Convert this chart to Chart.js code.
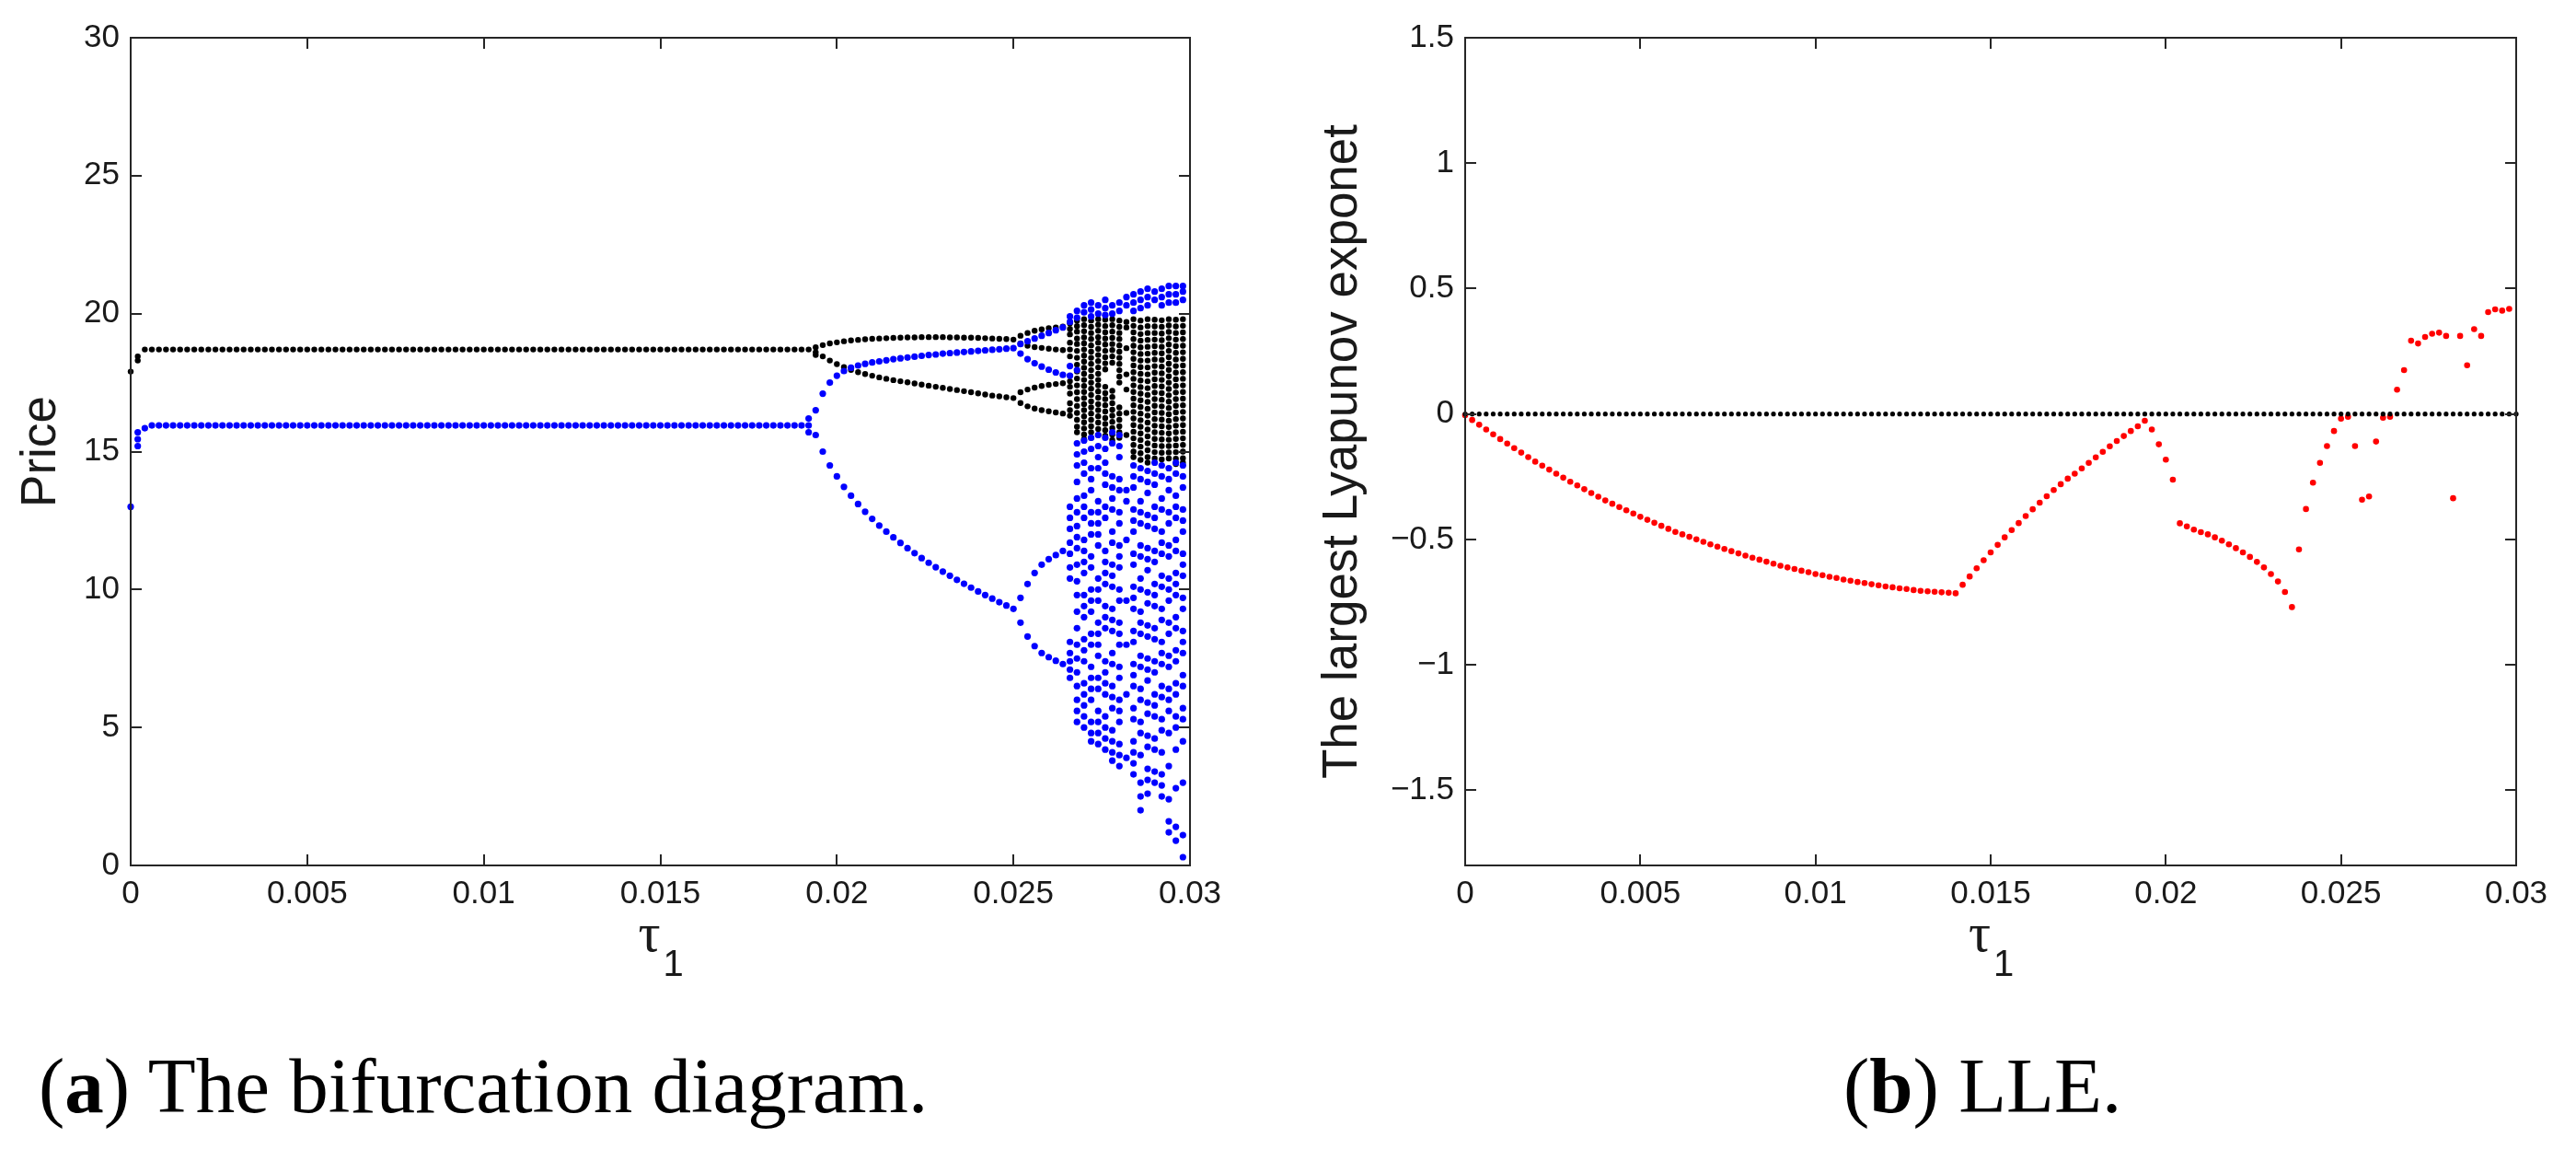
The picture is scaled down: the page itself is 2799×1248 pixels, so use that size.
<!DOCTYPE html>
<html><head><meta charset="utf-8">
<script src="https://cdn.jsdelivr.net/npm/chart.js@4.4.1/dist/chart.umd.min.js"></script>
<style>
html,body{margin:0;padding:0;background:#fff;width:2799px;height:1248px;overflow:hidden;}
.box{position:absolute;top:0;height:1060px;}
.cap{position:absolute;font-family:"Liberation Serif",serif;font-size:85px;line-height:1;color:#000;white-space:nowrap;}
</style></head><body>
<div class="box" style="left:0;width:1400px"><canvas id="c1"></canvas></div>
<div class="box" style="left:1400px;width:1399px"><canvas id="c2"></canvas></div>
<div class="cap" style="left:42px;top:1137px">(<b>a</b>) The bifurcation diagram.</div>
<div class="cap" style="left:2003px;top:1137px">(<b>b</b>) LLE.</div>
<script>
// ---------- shared parameter grid (tau_1) ----------
const tauGrid = [
0,0.0002,0.0004,0.0006,0.0008,0.001,0.0012,0.0014,0.0016,0.0018,
0.002,0.0022,0.0024,0.0026,0.0028,0.003,0.0032,0.0034,0.0036,0.0038,
0.004,0.0042,0.0044,0.0046,0.0048,0.005,0.0052,0.0054,0.0056,0.0058,
0.006,0.0062,0.0064,0.0066,0.0068,0.007,0.0072,0.0074,0.0076,0.0078,
0.008,0.0082,0.0084,0.0086,0.0088,0.009,0.0092,0.0094,0.0096,0.0098,
0.01,0.0102,0.0104,0.0106,0.0108,0.011,0.0112,0.0114,0.0116,0.0118,
0.012,0.0122,0.0124,0.0126,0.0128,0.013,0.0132,0.0134,0.0136,0.0138,
0.014,0.0142,0.0144,0.0146,0.0148,0.015,0.0152,0.0154,0.0156,0.0158,
0.016,0.0162,0.0164,0.0166,0.0168,0.017,0.0172,0.0174,0.0176,0.0178,
0.018,0.0182,0.0184,0.0186,0.0188,0.019,0.0192,0.0194,0.0196,0.0198,
0.02,0.0202,0.0204,0.0206,0.0208,0.021,0.0212,0.0214,0.0216,0.0218,
0.022,0.0222,0.0224,0.0226,0.0228,0.023,0.0232,0.0234,0.0236,0.0238,
0.024,0.0242,0.0244,0.0246,0.0248,0.025,0.0252,0.0254,0.0256,0.0258,
0.026,0.0262,0.0264,0.0266,0.0268,0.027,0.0272,0.0274,0.0276,0.0278,
0.028,0.0282,0.0284,0.0286,0.0288,0.029,0.0292,0.0294,0.0296,0.0298,
0.03];

// ---------- tick labels ----------
const xTickVals = [0,0.005,0.01,0.015,0.02,0.025,0.03];
const xTickLabels = ['0','0.005','0.01','0.015','0.02','0.025','0.03'];
const priceTickVals = [0,5,10,15,20,25,30];
const priceTickLabels = ['0','5','10','15','20','25','30'];
const lleTickVals = [-1.5,-1,-0.5,0,0.5,1,1.5];
const lleTickLabels = ['\u22121.5','\u22121','\u22120.5','0','0.5','1','1.5'];

// ---------- (a) bifurcation: period-1 part, tau index 0..96 ----------
const priceBlackP1 = [
17.9,18.45,18.7,18.7,18.7,18.7,18.7,18.7,18.7,18.7,
18.7,18.7,18.7,18.7,18.7,18.7,18.7,18.7,18.7,18.7,
18.7,18.7,18.7,18.7,18.7,18.7,18.7,18.7,18.7,18.7,
18.7,18.7,18.7,18.7,18.7,18.7,18.7,18.7,18.7,18.7,
18.7,18.7,18.7,18.7,18.7,18.7,18.7,18.7,18.7,18.7,
18.7,18.7,18.7,18.7,18.7,18.7,18.7,18.7,18.7,18.7,
18.7,18.7,18.7,18.7,18.7,18.7,18.7,18.7,18.7,18.7,
18.7,18.7,18.7,18.7,18.7,18.7,18.7,18.7,18.7,18.7,
18.7,18.7,18.7,18.7,18.7,18.7,18.7,18.7,18.7,18.7,
18.7,18.7,18.7,18.7,18.7,18.7,18.7];
const priceBlueP1 = [
13.0,15.2,15.85,15.95,15.95,15.95,15.95,15.95,15.95,15.95,
15.95,15.95,15.95,15.95,15.95,15.95,15.95,15.95,15.95,15.95,
15.95,15.95,15.95,15.95,15.95,15.95,15.95,15.95,15.95,15.95,
15.95,15.95,15.95,15.95,15.95,15.95,15.95,15.95,15.95,15.95,
15.95,15.95,15.95,15.95,15.95,15.95,15.95,15.95,15.95,15.95,
15.95,15.95,15.95,15.95,15.95,15.95,15.95,15.95,15.95,15.95,
15.95,15.95,15.95,15.95,15.95,15.95,15.95,15.95,15.95,15.95,
15.95,15.95,15.95,15.95,15.95,15.95,15.95,15.95,15.95,15.95,
15.95,15.95,15.95,15.95,15.95,15.95,15.95,15.95,15.95,15.95,
15.95,15.95,15.95,15.95,15.95,15.95,15.95];
const priceBlackExtraTau = [0.0002,0.0194];
const priceBlackExtra = [18.3,18.5];
const priceBlueExtraTau = [0.0002,0.0002,0.0192,0.0192];
const priceBlueExtra = [15.45,15.7,16.2,15.7];

// ---------- period-2 part, tau index 97..125 ----------
const priceBlackHi = [18.78,18.86,18.92,18.96,19.0,19.03,19.05,19.07,19.09,19.1,19.11,19.12,19.13,19.14,19.14,19.15,19.15,19.15,19.15,19.14,19.14,19.13,19.13,19.12,19.11,19.1,19.09,19.08,19.06];
const priceBlackLo = [18.6,18.45,18.3,18.17,18.06,17.96,17.88,17.81,17.75,17.69,17.64,17.59,17.55,17.51,17.47,17.43,17.39,17.35,17.31,17.27,17.23,17.19,17.15,17.11,17.07,17.03,17.0,16.97,16.94];
const priceBlueHi = [16.5,17.1,17.5,17.75,17.92,18.04,18.12,18.18,18.23,18.27,18.31,18.35,18.38,18.41,18.44,18.47,18.5,18.52,18.55,18.57,18.59,18.61,18.63,18.65,18.67,18.69,18.71,18.73,18.75];
const priceBlueLo = [15.6,15.0,14.5,14.1,13.72,13.4,13.1,12.82,12.56,12.32,12.1,11.89,11.69,11.5,11.32,11.14,10.97,10.81,10.65,10.5,10.35,10.21,10.07,9.93,9.8,9.67,9.54,9.42,9.3];

// ---------- period-4 part, tau index 126..132 ----------
const priceBlack4A = [19.2,19.3,19.38,19.43,19.47,19.5,19.53];
const priceBlack4B = [18.92,18.84,18.79,18.76,18.73,18.7,18.68];
const priceBlack4C = [17.15,17.25,17.32,17.38,17.42,17.45,17.48];
const priceBlack4D = [16.76,16.64,16.56,16.5,16.46,16.42,16.38];
const priceBlue4A = [18.9,19.0,19.1,19.2,19.3,19.4,19.5];
const priceBlue4B = [18.55,18.35,18.2,18.08,17.97,17.87,17.78];
const priceBlue4C = [9.7,10.2,10.6,10.9,11.1,11.25,11.4];
const priceBlue4D = [8.8,8.3,7.95,7.7,7.55,7.42,7.3];

// ---------- chaotic part, tau index 133..149 (one list per tau) ----------
const chaosBlack = [
[19.65,19.45,19.25,18.95,18.7,18.45,17.75,17.55,17.35,17.1,16.75,16.5,16.3],
[19.75,19.55,19.35,19.1,18.9,18.65,18.4,18.15,17.9,17.65,17.4,17.15,16.9,16.65,16.4,16.15,15.9,15.7],
[19.8,19.58,19.36,19.14,18.92,18.7,18.48,18.26,18.04,17.82,17.6,17.38,17.16,16.94,16.72,16.5,16.28,16.06,15.84,15.62,15.45],
[19.75,19.52,19.3,19.08,18.85,18.62,18.4,18.18,17.95,17.72,17.5,17.28,17.05,16.82,16.6,16.38,16.15,15.92,15.7,15.5],
[19.8,19.6,19.38,19.15,18.95,18.72,18.5,18.28,18.05,17.82,17.6,17.4,17.18,16.95,16.72,16.5,16.28,16.05,15.82,15.6],
[19.78,19.55,19.32,19.1,18.88,18.65,18.42,18.2,17.98,17.35,17.12,16.9,16.68,16.45,16.22,16.0,15.78,15.58],
[19.8,19.58,19.35,19.12,18.9,18.68,18.45,18.22,17.2,16.98,16.75,16.52,16.3,16.08,15.85,15.62,15.42],
[19.75,19.52,19.3,19.08,18.85,18.62,18.4,18.18,17.95,17.72,17.5,16.6,16.38,16.15,15.92,15.7,15.5],
[19.7,19.5,18.75,17.8,17.25,16.4,15.6],
[19.8,19.56,19.32,19.08,18.84,18.6,18.36,18.12,17.88,17.64,17.4,17.16,16.92,16.68,16.44,16.2,15.96,15.72,15.48,15.24,15.0,14.8],
[19.75,19.5,19.26,19.02,18.78,18.54,18.3,18.06,17.82,17.58,17.34,17.1,16.86,16.62,16.38,16.14,15.9,15.66,15.42,15.18,14.94,14.7],
[19.8,19.55,19.3,19.05,18.8,18.55,18.3,18.05,17.8,17.55,17.3,17.05,16.8,16.55,16.3,16.05,15.8,15.55,15.3,15.05,14.8,14.6],
[19.78,19.54,19.3,19.06,18.82,18.58,18.34,18.1,17.86,17.62,17.38,17.14,16.9,16.66,16.42,16.18,15.94,15.7,15.46,15.22,14.98,14.75],
[19.76,19.52,19.28,19.04,18.8,18.56,18.32,18.08,17.84,17.6,17.36,17.12,16.88,16.64,16.4,16.16,15.92,15.68,15.44,15.2,14.96,14.72],
[19.8,19.57,19.34,19.11,18.88,18.65,18.42,18.19,17.96,17.73,17.5,17.27,17.04,16.81,16.58,16.35,16.12,15.89,15.66,15.43,15.2,14.97,14.75],
[19.78,19.54,19.3,19.06,18.82,18.58,18.34,18.1,17.86,17.62,17.38,17.14,16.9,16.66,16.42,16.18,15.94,15.7,15.46,15.22,14.98,14.74,14.55],
[19.8,19.56,19.32,19.08,18.84,18.6,18.36,18.12,17.88,17.64,17.4,17.16,16.92,16.68,16.44,16.2,15.96,15.72,15.48,15.24,15.0,14.76,14.6]];
const chaosBlue = [
[19.9,19.7,18.1,17.75,13.0,12.6,12.2,11.7,11.3,10.8,10.4,8.1,7.7,7.4,7.1,6.8],
[20.1,19.85,17.95,15.3,14.9,14.5,13.9,13.3,12.8,12.3,11.9,11.5,10.9,10.3,9.8,9.2,8.6,8.0,7.5,7.0,6.5,6.0,5.6,5.2],
[20.3,20.05,15.4,15.0,14.6,14.2,13.4,13.0,12.6,11.8,11.4,11.0,10.6,9.8,9.4,9.0,8.2,7.8,7.4,6.6,6.2,5.8,5.4,5.0],
[20.4,20.15,19.9,15.5,15.1,14.4,14.0,13.6,12.8,12.4,12.0,11.2,10.8,10.0,9.6,9.2,8.4,8.0,7.2,6.8,6.4,6.0,5.2,4.8,4.5],
[20.3,20.0,15.6,15.2,14.8,14.4,13.2,12.8,12.4,12.0,11.6,10.4,10.0,9.6,8.8,8.4,8.0,7.6,6.8,6.4,5.6,5.2,4.8,4.4],
[20.5,20.2,19.95,15.5,15.1,14.6,14.2,13.8,13.0,12.6,11.4,11.0,10.6,10.2,9.4,9.0,8.6,7.4,7.0,6.6,6.2,5.4,5.0,4.6,4.2],
[20.3,20.0,15.7,15.3,14.1,13.7,13.3,12.9,12.1,11.7,10.9,10.5,10.1,9.3,8.9,8.5,7.7,7.3,6.5,6.1,5.7,4.9,4.5,4.1,3.8],
[20.4,20.1,15.6,15.2,14.8,14.0,13.6,12.8,12.4,11.6,11.2,10.8,10.0,9.6,8.8,8.4,8.0,7.2,6.8,6.0,5.6,5.2,4.4,4.0,3.6],
[20.6,20.3,13.6,13.2,11.8,9.6,8.0,6.2,3.9],
[20.7,20.4,20.1,14.5,14.1,13.7,12.9,12.5,12.1,11.3,10.9,10.1,9.7,9.3,8.5,8.1,7.3,6.9,6.5,5.7,5.3,4.5,4.1,3.7,3.3],
[20.8,20.5,20.2,14.4,14.0,13.2,12.8,12.4,11.6,11.2,10.4,10.0,9.2,8.8,8.4,7.6,7.2,6.4,6.0,5.2,4.8,4.0,3.0,2.5,2.0],
[20.9,20.6,20.3,14.3,13.9,13.5,12.7,12.3,11.5,11.1,10.7,9.9,9.5,8.7,8.3,7.5,7.1,6.7,5.9,5.5,4.7,4.3,3.5,3.1,2.6],
[20.8,20.5,14.6,14.2,13.8,13.0,12.6,12.2,11.4,11.0,10.2,9.8,9.4,8.6,8.2,7.4,7.0,6.2,5.8,5.4,4.6,4.2,3.4,3.0],
[20.9,20.6,20.3,14.5,14.1,13.3,12.9,12.1,11.7,11.3,10.5,10.1,9.3,8.9,8.1,7.7,7.3,6.5,6.1,5.3,4.9,4.1,3.3,2.9,2.5],
[21.0,20.7,20.4,14.4,14.0,13.6,12.8,12.4,11.6,11.2,10.4,10.0,9.6,8.8,8.4,7.6,7.2,6.4,6.0,5.6,4.8,3.6,2.4,1.6,1.2],
[21.0,20.7,20.4,14.6,14.2,13.4,13.0,12.6,11.8,11.4,10.6,10.2,9.8,9.0,8.6,7.8,7.4,6.6,6.2,5.4,5.0,4.2,2.8,1.4,0.9],
[21.0,20.8,20.5,14.5,14.1,13.7,12.9,12.5,12.1,11.3,10.9,10.5,9.7,9.3,8.5,8.1,7.7,6.9,6.5,5.7,5.3,4.5,3.0,1.1,0.3]];

// ---------- (b) largest Lyapunov exponent, tau index 0..149 ----------
const lleValues = [
-0.005,-0.024,-0.043,-0.062,-0.081,-0.100,-0.118,-0.136,-0.154,-0.172,
-0.190,-0.206,-0.222,-0.238,-0.254,-0.270,-0.285,-0.300,-0.315,-0.330,
-0.345,-0.358,-0.371,-0.384,-0.397,-0.410,-0.422,-0.434,-0.446,-0.458,
-0.470,-0.480,-0.490,-0.500,-0.510,-0.520,-0.529,-0.538,-0.547,-0.556,
-0.565,-0.573,-0.581,-0.589,-0.597,-0.605,-0.612,-0.618,-0.625,-0.631,
-0.638,-0.643,-0.649,-0.654,-0.660,-0.665,-0.670,-0.674,-0.679,-0.683,
-0.688,-0.691,-0.695,-0.698,-0.702,-0.705,-0.707,-0.709,-0.711,-0.713,
-0.715,-0.681,-0.648,-0.615,-0.583,-0.552,-0.522,-0.492,-0.463,-0.435,
-0.407,-0.380,-0.354,-0.328,-0.303,-0.280,-0.258,-0.238,-0.217,-0.195,
-0.173,-0.151,-0.129,-0.108,-0.088,-0.068,-0.049,-0.027,-0.062,-0.121,
-0.182,-0.262,-0.436,-0.448,-0.461,-0.471,-0.480,-0.492,-0.505,-0.520,
-0.535,-0.552,-0.570,-0.590,-0.612,-0.638,-0.668,-0.710,-0.770,-0.540,
-0.379,-0.274,-0.195,-0.128,-0.068,-0.019,-0.011,-0.128,-0.342,-0.329,
-0.110,-0.015,-0.011,0.097,0.175,0.292,0.281,0.307,0.320,0.324,
0.311,-0.336,0.311,0.194,0.338,0.311,0.406,0.417,0.412,0.419];
const lleZero = [
0,0,0,0,0,0,0,0,0,0, 0,0,0,0,0,0,0,0,0,0, 0,0,0,0,0,0,0,0,0,0,
0,0,0,0,0,0,0,0,0,0, 0,0,0,0,0,0,0,0,0,0, 0,0,0,0,0,0,0,0,0,0,
0,0,0,0,0,0,0,0,0,0, 0,0,0,0,0,0,0,0,0,0, 0,0,0,0,0,0,0,0,0,0,
0,0,0,0,0,0,0,0,0,0, 0,0,0,0,0,0,0,0,0,0, 0,0,0,0,0,0,0,0,0,0,
0,0,0,0,0,0,0,0,0,0, 0,0,0,0,0,0,0,0,0,0, 0,0,0,0,0,0,0,0,0,0,
0];

// ---------- helpers to build point lists ----------
function pts(taus, vals){ return vals.map((v,i)=>({x:taus[i], y:v})); }
function colPts(taus, cols){ const out=[]; cols.forEach((c,i)=>c.forEach(v=>out.push({x:taus[i], y:v}))); return out; }

const tauP1 = tauGrid.slice(0,97);
const tauP2 = tauGrid.slice(97,126);
const tauP4 = tauGrid.slice(126,133);
const tauChaos = tauGrid.slice(133,150);

const bluePoints = [].concat(
  pts(tauP1, priceBlueP1), pts(priceBlueExtraTau, priceBlueExtra),
  pts(tauP2, priceBlueHi), pts(tauP2, priceBlueLo),
  pts(tauP4, priceBlue4A), pts(tauP4, priceBlue4B), pts(tauP4, priceBlue4C), pts(tauP4, priceBlue4D),
  colPts(tauChaos, chaosBlue));
const blackPoints = [].concat(
  pts(tauP1, priceBlackP1), pts(priceBlackExtraTau, priceBlackExtra),
  pts(tauP2, priceBlackHi), pts(tauP2, priceBlackLo),
  pts(tauP4, priceBlack4A), pts(tauP4, priceBlack4B), pts(tauP4, priceBlack4C), pts(tauP4, priceBlack4D),
  colPts(tauChaos, chaosBlack));

// ---------- frame, inward ticks, tau_1 axis title ----------
const framePlugin = {
  id:'frame',
  afterDraw(chart){
    const {ctx, chartArea:a, scales} = chart;
    const x = scales.x, y = scales.y;
    ctx.save();
    ctx.strokeStyle = '#262626'; ctx.lineWidth = 2;
    ctx.strokeRect(a.left, a.top, a.right-a.left, a.bottom-a.top);
    ctx.beginPath();
    x.ticks.forEach(t=>{ const p = Math.round(x.getPixelForValue(t.value));
      ctx.moveTo(p,a.bottom); ctx.lineTo(p,a.bottom-12); ctx.moveTo(p,a.top); ctx.lineTo(p,a.top+12); });
    y.ticks.forEach(t=>{ const p = Math.round(y.getPixelForValue(t.value));
      ctx.moveTo(a.left,p); ctx.lineTo(a.left+12,p); ctx.moveTo(a.right,p); ctx.lineTo(a.right-12,p); });
    ctx.stroke();
    const cx = (a.left+a.right)/2;
    ctx.fillStyle = '#1a1a1a';
    ctx.textBaseline = 'alphabetic';
    ctx.font = '60px "Liberation Serif"'; ctx.textAlign = 'right';
    ctx.fillText('\u03C4', cx, a.bottom+93);
    ctx.font = '40px "Liberation Sans"'; ctx.textAlign = 'left';
    ctx.fillText('1', cx+3, a.bottom+120);
    ctx.restore();
  }
};

const tickFont = {family:'"Liberation Sans", Arial, sans-serif', size:35};
function makeOptions(cfg){
  return {
    responsive:true, maintainAspectRatio:false, animation:false, devicePixelRatio:1,
    layout:{padding:{left:0, top:41, right:cfg.padRight, bottom:0}},
    plugins:{legend:{display:false}, tooltip:{enabled:false}},
    scales:{
      x:{type:'linear', min:0, max:0.03,
        grid:{display:false, drawTicks:false}, border:{display:false},
        afterBuildTicks:s=>{ s.ticks = xTickVals.map(v=>({value:v})); },
        afterFit:s=>{ s.height = 120; },
        ticks:{padding:10, font:tickFont, color:'#1a1a1a', maxRotation:0, minRotation:0, autoSkip:false,
          callback:(v)=>{ const i = xTickVals.findIndex(t=>Math.abs(t-v)<1e-9); return i>=0 ? xTickLabels[i] : ''; }}
      },
      y:{type:'linear', min:cfg.ymin, max:cfg.ymax,
        grid:{display:false, drawTicks:false}, border:{display:false},
        afterBuildTicks:s=>{ s.ticks = cfg.tickVals.map(v=>({value:v})); },
        afterFit:s=>{ s.width = cfg.yWidth; },
        ticks:{padding:12, font:tickFont, color:'#1a1a1a', autoSkip:false,
          callback:(v)=>{ const i = cfg.tickVals.findIndex(t=>Math.abs(t-v)<1e-9); return i>=0 ? cfg.tickLabels[i] : ''; }},
        title:{display:true, text:cfg.title, color:'#1a1a1a',
          font:{family:'"Liberation Sans", Arial, sans-serif', size:cfg.titleSize}, padding:{top:cfg.titlePad, bottom:0}}
      }
    }
  };
}

function scatterSet(data, color, r){
  return {data, showLine:false, pointRadius:r, pointHoverRadius:r, pointBorderWidth:0,
          backgroundColor:color, borderColor:color, pointStyle:'circle', clip:false};
}

new Chart(document.getElementById('c1'), {
  type:'scatter',
  data:{datasets:[scatterSet(bluePoints,'#0000ff',3.6), scatterSet(blackPoints,'#000000',3.2)]},
  options:makeOptions({padRight:107, yWidth:142, ymin:0, ymax:30, tickVals:priceTickVals, tickLabels:priceTickLabels, title:'Price', titleSize:53, titlePad:14}),
  plugins:[framePlugin]
});

new Chart(document.getElementById('c2'), {
  type:'scatter',
  data:{datasets:[scatterSet(pts(tauGrid, lleZero),'#000000',2.6), scatterSet(pts(tauGrid, lleValues),'#ff0000',3.3)]},
  options:makeOptions({padRight:65, yWidth:192, ymin:-1.8, ymax:1.5, tickVals:lleTickVals, tickLabels:lleTickLabels, title:'The largest Lyapunov exponet', titleSize:53, titlePad:28}),
  plugins:[framePlugin]
});
</script>
</body></html>
